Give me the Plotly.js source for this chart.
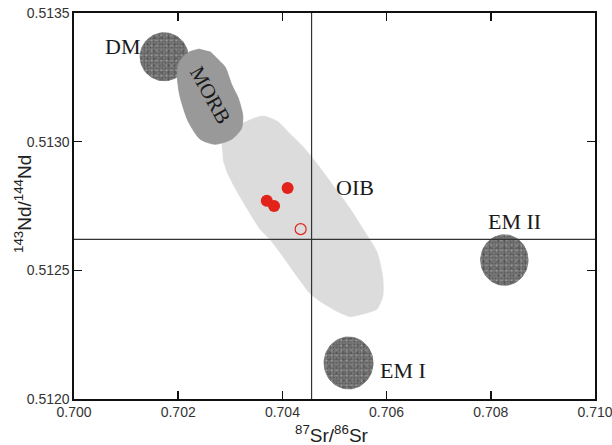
<!DOCTYPE html>
<html>
<head>
<meta charset="utf-8">
<script src="https://cdn.plot.ly/plotly-3.0.1.min.js"></script>
<style>
  html, body { margin: 0; padding: 0; background: #fff; }
  #chart { width: 612px; height: 445px; }
</style>
</head>
<body>
<div id="chart"></div>
<script>
// Sample analyses (87Sr/86Sr vs 143Nd/144Nd)
const sampleSr = [0.70410, 0.70370, 0.70384];
const sampleNd = [0.51282, 0.51277, 0.51275];
const openSr = [0.70435];
const openNd = [0.51266];

// Bulk-earth reference lines
const bulkSr = 0.70456;
const bulkNd = 0.51262;

// Mantle end-member reservoirs (centre and half-widths)
const reservoirNames = ["DM", "EM II", "EM I"];
const reservoirSr = [0.70173, 0.70826, 0.70527];
const reservoirNd = [0.51333, 0.51254, 0.51214];
const reservoirSrHalf = [0.000461, 0.000455, 0.000470];
const reservoirNdHalf = [0.0000933, 0.0000983, 0.000101];

// MORB field outline
const morbSr = [0.70242, 0.70223, 0.70209, 0.70200, 0.70198, 0.70203, 0.70219, 0.70242,
                0.70271, 0.70303, 0.70321, 0.70324, 0.70315, 0.70303, 0.70290, 0.70276, 0.70261];
const morbNd = [0.51336, 0.51335, 0.51333, 0.51330, 0.51326, 0.51318, 0.51308, 0.51301,
                0.51299, 0.51301, 0.51305, 0.51310, 0.51317, 0.51322, 0.51329, 0.51332, 0.51335];

// OIB field outline
const oibSr = [0.70284, 0.70286, 0.70299, 0.70322, 0.70344, 0.70363, 0.70390, 0.70415, 0.70440,
               0.70472, 0.70501, 0.70530, 0.70555, 0.70582, 0.70593, 0.70593, 0.70582, 0.70555,
               0.70530, 0.70505, 0.70472, 0.70453, 0.70434, 0.70395, 0.70376, 0.70357, 0.70332,
               0.70309, 0.70294, 0.70286];
const oibNd = [0.51298, 0.51301, 0.51304, 0.51307, 0.51309, 0.51310, 0.51308, 0.51303, 0.51298,
               0.51290, 0.51282, 0.51274, 0.51266, 0.51257, 0.51247, 0.51240, 0.51235, 0.51233,
               0.51232, 0.51234, 0.51238, 0.51241, 0.51246, 0.51257, 0.51262, 0.51266, 0.51274,
               0.51282, 0.51288, 0.51293];

// Field labels
const labelText = ["DM", "OIB", "EM II", "EM I"];
const labelSr = [0.70093, 0.70539, 0.70845, 0.70632];
const labelNd = [0.51337, 0.51282, 0.51269, 0.51211];
const morbLabel = {text: "MORB", sr: 0.70261, nd: 0.51318};

// Axis ticks
const xTicks = [0.700, 0.702, 0.704, 0.706, 0.708, 0.710];
const yTicks = [0.5120, 0.5125, 0.5130, 0.5135];

function ellipse(cx, cy, rx, ry) {
  const xs = [], ys = [];
  for (let i = 0; i <= 72; i++) {
    const t = (i / 72) * 2 * Math.PI;
    xs.push(cx + rx * Math.cos(t));
    ys.push(cy + ry * Math.sin(t));
  }
  return {xs, ys};
}

const traces = [];

// OIB field (light grey)
traces.push({
  x: oibSr, y: oibNd, type: "scatter", mode: "lines",
  fill: "toself", fillcolor: "#dcdcdc",
  line: {color: "#dcdcdc", width: 0.5, shape: "spline", smoothing: 0.6},
  hoverinfo: "skip", showlegend: false
});

// Speckled reservoir discs: grey base with overlapping fine speckle layers
const speckles = [
  {fgcolor: "rgba(220,220,220,0.35)", size: 2, solidity: 0.5},
  {fgcolor: "rgba(40,40,40,0.35)", size: 3, solidity: 0.3},
  {fgcolor: "rgba(235,235,235,0.3)", size: 5, solidity: 0.15},
  {fgcolor: "rgba(50,50,50,0.3)", size: 7, solidity: 0.15}
];
reservoirNames.forEach((name, i) => {
  const e = ellipse(reservoirSr[i], reservoirNd[i], reservoirSrHalf[i], reservoirNdHalf[i]);
  traces.push({
    x: e.xs, y: e.ys, type: "scatter", mode: "lines", fill: "toself",
    fillcolor: "#646464", line: {width: 0.8, color: "#6c6c6c"},
    hoverinfo: "skip", showlegend: false, name: name
  });
  speckles.forEach(p => {
    traces.push({
      x: e.xs, y: e.ys, type: "scatter", mode: "lines", fill: "toself",
      fillcolor: "rgba(0,0,0,0)",
      fillpattern: {shape: ".", bgcolor: "rgba(0,0,0,0)", fgcolor: p.fgcolor, size: p.size, solidity: p.solidity},
      line: {width: 0}, hoverinfo: "skip", showlegend: false
    });
  });
});

// MORB field (medium grey)
traces.push({
  x: morbSr, y: morbNd, type: "scatter", mode: "lines",
  fill: "toself", fillcolor: "#999999",
  line: {color: "#939393", width: 0.8, shape: "spline", smoothing: 0.7},
  hoverinfo: "skip", showlegend: false
});

// Samples
traces.push({
  x: sampleSr, y: sampleNd, type: "scatter", mode: "markers",
  marker: {symbol: "circle", size: 12, color: "#e2231a", line: {width: 0}},
  showlegend: false
});
traces.push({
  x: openSr, y: openNd, type: "scatter", mode: "markers",
  marker: {symbol: "circle-open", size: 11, color: "#e2231a", line: {width: 1.2, color: "#e2231a"}},
  showlegend: false
});

const serif = "Liberation Serif, Times New Roman, serif";
const sans = "Liberation Sans, Arial, sans-serif";
const annotations = labelText.map((t, i) => ({
  x: labelSr[i], y: labelNd[i], xref: "x", yref: "y", text: t, showarrow: false,
  font: {family: serif, size: 22, color: "#1a1a1a"}
}));
annotations.push({
  x: morbLabel.sr, y: morbLabel.nd, xref: "x", yref: "y", text: morbLabel.text,
  showarrow: false, textangle: 61,
  font: {family: serif, size: 21, color: "#1a1a1a"}
});
// Axis titles
annotations.push({
  xref: "paper", yref: "paper", x: 0.495, y: -0.0907, xanchor: "center", yanchor: "middle",
  text: "<sup>87</sup>Sr/<sup>86</sup>Sr", showarrow: false,
  font: {family: sans, size: 19, color: "#222"}
});
annotations.push({
  xref: "paper", yref: "paper", x: -0.098, y: 0.505, xanchor: "center", yanchor: "middle",
  text: "<sup>143</sup>Nd/<sup>144</sup>Nd", showarrow: false, textangle: -90,
  font: {family: sans, size: 19, color: "#222"}
});

const layout = {
  width: 612, height: 445,
  margin: {l: 74, r: 17, t: 13, b: 46, pad: 0},
  paper_bgcolor: "#ffffff", plot_bgcolor: "#ffffff",
  font: {family: sans, color: "#333333"},
  xaxis: {
    range: [0.700, 0.710], tickvals: xTicks, ticktext: xTicks.map(v => v.toFixed(3)),
    ticks: "inside", ticklen: 8, tickwidth: 1.5, tickcolor: "#111",
    showline: true, linecolor: "#111", linewidth: 1.6, mirror: "ticks",
    showgrid: false, zeroline: false, ticklabeloverflow: "allow",
    tickfont: {family: sans, size: 14, color: "#333"}
  },
  yaxis: {
    range: [0.5120, 0.5135], tickvals: yTicks, ticktext: yTicks.map(v => v.toFixed(4)),
    ticks: "inside", ticklen: 8, tickwidth: 1.5, tickcolor: "#111",
    showline: true, linecolor: "#111", linewidth: 1.6, mirror: "ticks",
    showgrid: false, zeroline: false, ticklabeloverflow: "allow",
    tickfont: {family: sans, size: 14, color: "#333"}
  },
  shapes: [
    {type: "line", xref: "x", yref: "paper", x0: bulkSr, x1: bulkSr, y0: 0, y1: 1,
     line: {color: "#333", width: 1.2}},
    {type: "line", xref: "paper", yref: "y", x0: 0, x1: 1, y0: bulkNd, y1: bulkNd,
     line: {color: "#333", width: 1.2}}
  ],
  annotations: annotations,
  showlegend: false
};

Plotly.newPlot("chart", traces, layout, {displayModeBar: false, staticPlot: true});
</script>
</body>
</html>
